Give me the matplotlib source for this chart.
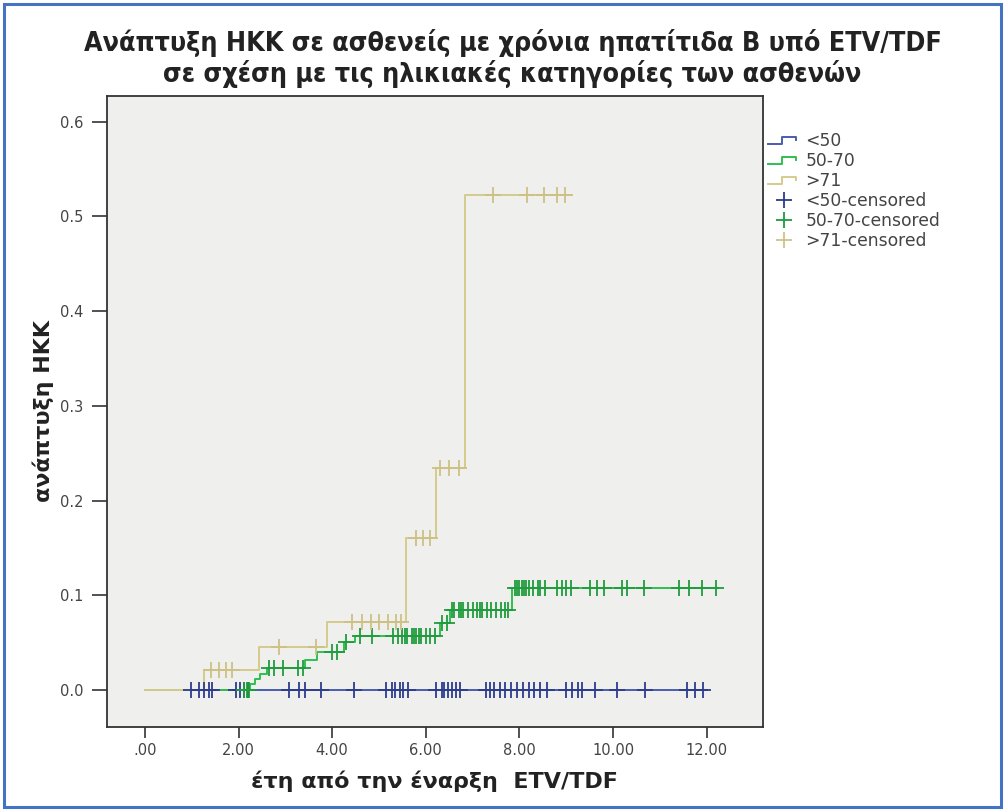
import numpy as np
import matplotlib
matplotlib.use('Agg')
import matplotlib.pyplot as plt
from matplotlib.legend_handler import HandlerBase
from matplotlib.lines import Line2D
from matplotlib.patches import Rectangle

# cumulative HCC incidence by age group: step times (years) and values after each step
young_t = [0.0, 12.0]
young_v = [0.0, 0.0]
mid_t = [0.0, 2.25, 2.35, 2.45, 2.60, 3.43, 3.68, 4.25, 4.49, 6.30, 6.52, 7.85, 12.25]
mid_v = [0.0, 0.006, 0.012, 0.017, 0.023, 0.032, 0.040, 0.051, 0.057, 0.071, 0.084, 0.108, 0.108]
old_t = [0.0, 1.27, 2.43, 3.90, 5.57, 6.22, 6.83, 9.10]
old_v = [0.0, 0.021, 0.045, 0.072, 0.160, 0.234, 0.522, 0.522]

# censored observations (years)
young_cens = [0.98, 1.15, 1.27, 1.36, 1.44, 1.95, 2.04, 2.12, 2.21, 3.08, 3.29, 3.42, 3.76,
              4.46, 5.14, 5.27, 5.35, 5.44, 5.52, 5.61, 6.22, 6.35, 6.39, 6.48, 6.56, 6.65,
              6.73, 7.28, 7.37, 7.45, 7.58, 7.69, 7.81, 7.94, 8.07, 8.20, 8.32, 8.45, 8.58,
              9.00, 9.13, 9.26, 9.34, 9.62, 10.08, 10.68, 11.59, 11.76, 11.93]
mid_cens = [2.12, 2.18, 2.22, 2.65, 2.75, 2.95, 3.28, 3.38, 4.0, 4.1, 4.3, 4.6, 4.85,
            5.3, 5.4, 5.5, 5.55, 5.6, 5.7, 5.75, 5.8, 5.85, 5.9, 6.0, 6.1, 6.2, 6.35, 6.45,
            6.55, 6.6, 6.7, 6.75, 6.8, 6.9, 7.0, 7.1, 7.15, 7.2, 7.3, 7.4, 7.5, 7.6, 7.7,
            7.75, 7.9, 7.95, 8.0, 8.05, 8.1, 8.15, 8.2, 8.3, 8.4, 8.45, 8.55, 8.8, 8.9, 9.0,
            9.1, 9.5, 9.66, 9.8, 10.2, 10.3, 10.66, 11.4, 11.63, 11.9, 12.2]
old_cens = [1.42, 1.59, 1.74, 1.85, 2.87, 3.65, 4.42, 4.63, 4.82, 4.99, 5.2, 5.37, 5.48,
            5.8, 5.94, 6.09, 6.3, 6.5, 6.7, 7.43, 8.17, 8.53, 8.81, 8.98]

groups = ['<50', '50-70', '>71']
line_colors = ['#4a5cb0', '#2fbf4f', '#d6ca8c']
mark_colors = ['#2c3c8c', '#1f9c3c', '#cdc184']

xticks = [0, 2, 4, 6, 8, 10, 12]
yticks = [0.0, 0.1, 0.2, 0.3, 0.4, 0.5, 0.6]


def at(t, v, c):
    t = np.asarray(t)
    v = np.asarray(v)
    return v[np.searchsorted(t, c, side='right') - 1]


class StepHandler(HandlerBase):
    def create_artists(self, legend, orig_handle, xdescent, ydescent,
                       width, height, fontsize, trans):
        x0 = -xdescent
        lo = -ydescent + height * 0.2
        hi = -ydescent + height * 0.75
        xs = [x0, x0 + width * 0.45, x0 + width * 0.45, x0 + width * 0.88, x0 + width * 0.88]
        ys = [lo, lo, hi, hi, hi - (hi - lo) * 0.45]
        ln = Line2D(xs, ys, color=orig_handle.get_color(), lw=orig_handle.get_linewidth())
        ln.set_transform(trans)
        return [ln]


fig = plt.figure(figsize=(10.05, 8.10), dpi=100)
fig.patch.set_facecolor('white')
fig.patches.append(Rectangle((0.004, 0.004), 0.992, 0.991, transform=fig.transFigure,
                             fill=False, edgecolor='#4472c4', lw=2.2))

ax = fig.add_axes([0.1065, 0.1025, 0.6525, 0.779])
ax.set_facecolor('#efefed')

data = [(young_t, young_v, young_cens), (mid_t, mid_v, mid_cens), (old_t, old_v, old_cens)]
line_handles = []
cens_handles = []
for i in [2, 1, 0]:
    t, v, cens = data[i]
    h, = ax.plot(t, v, drawstyle='steps-post', color=line_colors[i], lw=1.4, zorder=2 + i)
    line_handles.insert(0, h)
    m, = ax.plot(cens, at(t, v, cens), ls='none', marker='+', ms=11, mew=1.3,
                 color=mark_colors[i], zorder=5 + i)
    cens_handles.insert(0, m)

ax.set_xlim(-0.81, 13.2)
ax.set_ylim(-0.039, 0.627)
ax.set_xticks(xticks)
ax.set_xticklabels(['.00' if x == 0 else f'{x:.2f}' for x in xticks])
ax.set_yticks(yticks)
ax.set_yticklabels([f'{y:.1f}' for y in yticks])
ax.tick_params(direction='out', length=8, width=1.2, colors='#333333',
               labelsize=10.5, labelcolor='#444444')
ax.tick_params(axis='y', length=11, pad=6)
for s in ax.spines.values():
    s.set_color('#333333')
    s.set_linewidth(1.3)

ax.set_xlabel('έτη από την έναρξη  ETV/TDF', fontsize=16, fontweight='bold',
              color='#222222', labelpad=9)
ax.set_ylabel('ανάπτυξη ΗΚΚ', fontsize=16, fontweight='bold', color='#222222', labelpad=4)

fig.text(0.51, 0.928, 'Ανάπτυξη ΗΚΚ σε ασθενείς με χρόνια ηπατίτιδα Β υπό ETV/TDF\n'
         'σε σχέση με τις ηλικιακές κατηγορίες των ασθενών',
         ha='center', va='center', fontsize=19.3, fontweight='bold', color='#222222',
         family='DejaVu Sans', fontstretch='condensed', linespacing=1.12)

labels = groups + [g + '-censored' for g in groups]
leg = fig.legend(line_handles + cens_handles, labels, loc='upper left',
                 bbox_to_anchor=(0.764, 0.837), frameon=False, fontsize=12.3,
                 handlelength=1.9, handletextpad=0.3, labelspacing=0.12, borderpad=0,
                 borderaxespad=0, handler_map={h: StepHandler() for h in line_handles})
for txt in leg.get_texts():
    txt.set_color('#444444')

fig.savefig('out.png', dpi=100)
